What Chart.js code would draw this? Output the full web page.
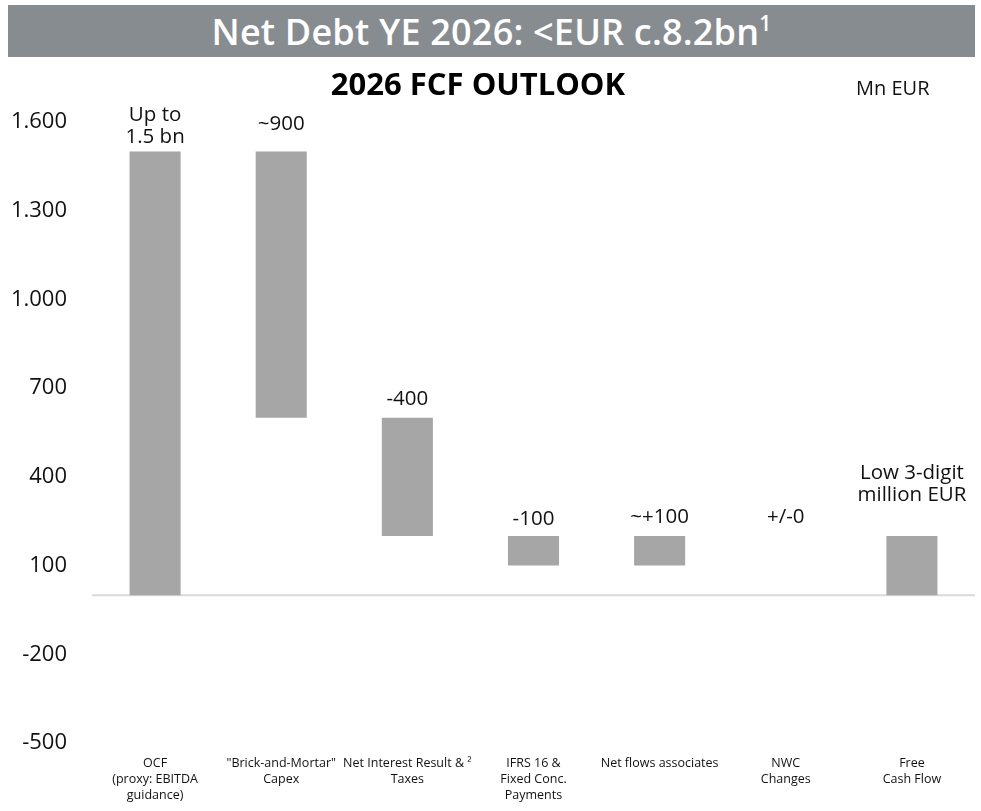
<!DOCTYPE html>
<html>
<head>
<meta charset="utf-8">
<script src="https://cdn.jsdelivr.net/npm/chart.js@4"></script>
<style>
  body { margin: 0; background: #fff; font-family: 'Open Sans', sans-serif; }
  #wrap { position: relative; width: 981px; height: 811px; }
  #chart { position: absolute; left: 0; top: 0; }
  .banner { position: absolute; left: 8px; top: 5px; width: 967px; height: 52px; background: #878c91;
            color: #fff; font-size: 36px; font-weight: 600; text-align: center; line-height: 54px; letter-spacing: 0.2px; }
  .banner sup { font-size: 21px; vertical-align: 14px; line-height: 0; }
  .title { position: absolute; left: 0; width: 956px; top: 62px; text-align: center; font-size: 31px; font-weight: 700; color: #000; }
  .unit { position: absolute; left: 856px; top: 74px; font-size: 20px; color: #111; }
</style>
</head>
<body>
<div id="wrap">
  <canvas id="chart" width="981" height="811"></canvas>
  <div class="banner">Net Debt YE 2026: &lt;EUR c.8.2bn<sup>1</sup></div>
  <div class="title">2026 FCF OUTLOOK</div>
  <div class="unit">Mn EUR</div>
</div>
<script>
const categories = [
    ['OCF', '(proxy: EBITDA', 'guidance)'],
    ['"Brick-and-Mortar"', 'Capex'],
    ['Net Interest Result & \u00b2', 'Taxes'],
    ['IFRS 16 &', 'Fixed Conc.', 'Payments'],
    ['Net flows associates'],
    ['NWC', 'Changes'],
    ['Free', 'Cash Flow']
];
const barStart = [0, 600, 200, 100, 100, null, 0];
const barEnd = [1500, 1500, 600, 200, 200, null, 200];
const barLabels = [['Up to', '1.5 bn'], ['~900'], ['-400'], ['-100'], ['~+100'], ['+/-0'], ['Low 3-digit', 'million EUR']];
const yTicks = [-500, -200, 100, 400, 700, 1000, 1300, 1600];

// gap between bar top and centre of the last label line
const labelGap = [14, 27, 19, 17, 19, 19, 41];

function formatDe(v) {
    const s = Math.abs(v).toString().replace(/\B(?=(\d{3})+(?!\d))/g, '.');
    return (v < 0 ? '-' : '') + s;
}

const extras = {
    id: 'extras',
    beforeDatasetsDraw(chart) {
        const { ctx, chartArea, scales } = chart;
        const y0 = scales.y.getPixelForValue(0);
        ctx.save();
        ctx.strokeStyle = '#d9d9d9';
        ctx.lineWidth = 2;
        ctx.beginPath();
        ctx.moveTo(chartArea.left, y0);
        ctx.lineTo(chartArea.right, y0);
        ctx.stroke();
        ctx.restore();
    },
    afterDatasetsDraw(chart) {
        const { ctx, scales } = chart;
        ctx.save();
        ctx.font = '20.5px "Open Sans", sans-serif';
        ctx.fillStyle = '#111';
        ctx.textAlign = 'center';
        ctx.textBaseline = 'middle';
        barLabels.forEach((lines, i) => {
            let topVal = barEnd[i];
            if (topVal == null) topVal = barEnd[i - 1];
            const x = scales.x.getPixelForValue(i);
            const yTop = scales.y.getPixelForValue(topVal);
            const last = yTop - labelGap[i];
            lines.forEach((t, k) => {
                ctx.fillText(t, x, last - (lines.length - 1 - k) * 22);
            });
        });
        ctx.restore();
    }
};

new Chart(document.getElementById('chart').getContext('2d'), {
    type: 'bar',
    data: {
        labels: categories,
        datasets: [{
            data: barStart.map((s, i) => s == null ? null : [s, barEnd[i]]),
            backgroundColor: '#a6a6a6',
            borderWidth: 0,
            categoryPercentage: 1,
            barPercentage: 0.405
        }]
    },
    options: {
        responsive: false,
        animation: false,
        layout: { padding: { top: 122, right: 6, left: 0, bottom: 0 } },
        plugins: {
            legend: { display: false },
            tooltip: { enabled: false }
        },
        scales: {
            x: {
                grid: { display: false, drawTicks: false },
                border: { display: false },
                ticks: {
                    color: '#111',
                    padding: 12,
                    maxRotation: 0,
                    autoSkip: false,
                    font: { family: 'Open Sans', size: 12.5, lineHeight: 1.3 }
                },
                afterFit(s) { s.height = 68; }
            },
            y: {
                min: -500,
                max: 1600,
                grid: { display: false, drawTicks: false },
                border: { display: false },
                afterBuildTicks(s) { s.ticks = yTicks.map(v => ({ value: v })); },
                ticks: {
                    color: '#111',
                    padding: 25,
                    font: { family: 'Open Sans', size: 22 },
                    callback: v => formatDe(v)
                },
                afterFit(s) { s.width = 92; }
            }
        }
    },
    plugins: [extras]
});
</script>
</body>
</html>
